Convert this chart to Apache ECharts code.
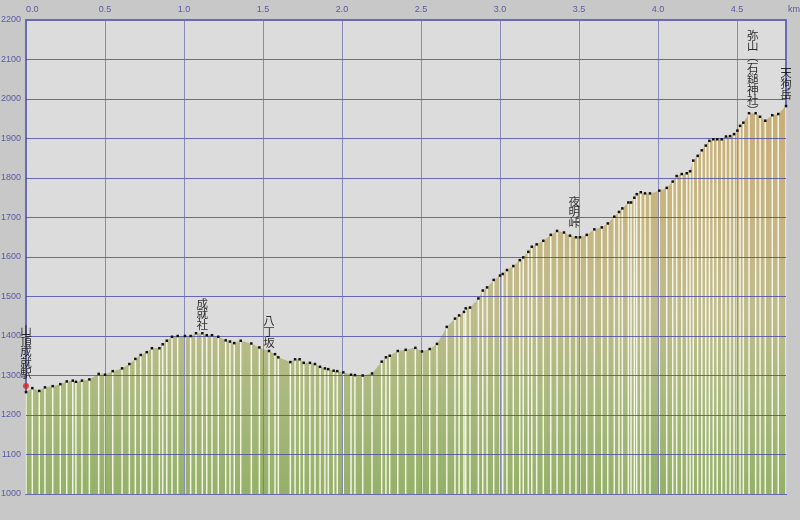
<!DOCTYPE html>
<html><head><meta charset="utf-8">
<script src="https://cdn.jsdelivr.net/npm/echarts@6/dist/echarts.min.js"></script>
<style>html,body{margin:0;padding:0;background:#c8c8c8}#c{width:800px;height:520px}</style>
</head><body><div id="c"></div>
<script>
// distance along route (km)
const distanceKm = [0.000,0.040,0.084,0.120,0.169,0.217,0.258,0.296,0.316,0.354,0.401,0.460,0.500,0.549,0.608,0.654,0.692,0.726,0.764,0.797,0.844,0.865,0.891,0.924,0.960,1.006,1.042,1.076,1.116,1.144,1.177,1.217,1.264,1.291,1.318,1.359,1.426,1.477,1.538,1.576,1.597,1.673,1.703,1.732,1.758,1.797,1.829,1.861,1.892,1.913,1.947,1.970,2.008,2.057,2.082,2.131,2.190,2.251,2.278,2.302,2.353,2.403,2.464,2.506,2.555,2.601,2.663,2.715,2.741,2.772,2.783,2.810,2.863,2.891,2.918,2.960,3.000,3.017,3.044,3.084,3.125,3.147,3.179,3.201,3.232,3.274,3.321,3.361,3.405,3.443,3.481,3.506,3.549,3.597,3.644,3.682,3.723,3.753,3.774,3.812,3.829,3.850,3.865,3.891,3.918,3.949,4.008,4.055,4.093,4.118,4.150,4.182,4.203,4.223,4.251,4.277,4.302,4.325,4.350,4.375,4.403,4.430,4.456,4.481,4.502,4.519,4.540,4.576,4.618,4.646,4.679,4.723,4.761,4.810];
// elevation (m)
const elevationM = [1258,1268,1261,1270,1273,1278,1285,1287,1284,1287,1290,1304,1302,1311,1318,1329,1342,1352,1359,1369,1369,1379,1388,1398,1400,1400,1400,1407,1407,1402,1402,1398,1389,1386,1382,1388,1381,1371,1362,1354,1346,1334,1341,1341,1332,1332,1329,1322,1318,1316,1312,1311,1308,1302,1301,1300,1305,1335,1346,1350,1362,1365,1370,1361,1367,1380,1423,1444,1452,1461,1470,1472,1495,1515,1523,1542,1553,1557,1567,1577,1592,1599,1613,1626,1632,1641,1656,1666,1662,1654,1650,1650,1656,1670,1675,1685,1702,1714,1723,1738,1738,1750,1759,1764,1761,1761,1768,1775,1791,1805,1810,1812,1817,1844,1856,1870,1882,1894,1898,1898,1898,1905,1906,1911,1920,1932,1940,1964,1964,1955,1945,1959,1962,1982];

const landmarkNames = ['山頂成就駅','成就社','八丁坂','夜明峠','弥山(石鎚神社)','天狗岳'];
const landmarkKm    = [0.000, 1.116, 1.538, 3.470, 4.600, 4.810];
const landmarkElev  = [1258, 1407, 1362, 1650, 1964, 1982];

const xTickValues = [0.5,1.0,1.5,2.0,2.5,3.0,3.5,4.0,4.5];
const yTickValues = [1100,1200,1300,1400,1500,1600,1700,1800,1900,2000,2100];

const points = distanceKm.map((d,i)=>[d, elevationM[i]]);
const labelDist = [13,3,3,9,-3,6];

const chart = echarts.init(document.getElementById('c'), null, {renderer:'canvas'});
const gridStyleH = {color:'rgba(72,72,168,0.8)', width:1.2, type:'solid'};
const gridStyleV = {color:'rgba(110,110,180,0.75)', width:1, type:'solid'};

chart.setOption({
  animation:false,
  backgroundColor:'#c8c8c8',
  grid:{left:26,right:14,top:20,bottom:26,containLabel:false,outerBoundsMode:'none',show:true,backgroundColor:'#dcdcdc',borderColor:'#6a6ab4',borderWidth:2},
  graphic:[{type:'text',left:788,top:5,style:{text:'km',fontSize:9,fill:'#5a5aa0',fontFamily:'Liberation Sans'}}],
  xAxis:{type:'value',position:'top',min:0,max:4.81,interval:0.5,
    axisLine:{show:false},axisTick:{show:false},splitLine:{show:false},
    axisLabel:{formatter:v=>v.toFixed(1),color:'#5a5aa0',fontSize:9,margin:6,showMaxLabel:false,alignMinLabel:'left',fontFamily:'Liberation Sans'}},
  yAxis:{type:'value',min:1000,max:2200,interval:100,
    axisLine:{show:false},axisTick:{show:false},splitLine:{show:false},
    axisLabel:{formatter:v=>String(v),color:'#5a5aa0',fontSize:9,margin:5,fontFamily:'Liberation Sans'}},
  series:[
    {type:'line',data:points,symbol:'none',z:2,silent:true,
      lineStyle:{width:0},
      areaStyle:{opacity:1,color:new echarts.graphic.LinearGradient(0,20,0,494,[
        {offset:0,color:'#c4a870'},{offset:0.3,color:'#c9b27e'},{offset:0.62,color:'#bfbb8c'},
        {offset:0.8,color:'#a9b97e'},{offset:1,color:'#94b068'}],true)}},
    {type:'bar',data:points,barWidth:1.5,z:3,silent:true,
      itemStyle:{color:'rgba(250,250,238,0.92)'},
      markLine:{silent:true,symbol:['none','none'],label:{show:false},z:5,animation:false,
        data:[...yTickValues.map(v=>({yAxis:v,lineStyle:gridStyleH})),...xTickValues.map(v=>({xAxis:v,lineStyle:gridStyleV}))]}},
    {type:'line',data:points,z:10,symbol:'rect',symbolSize:2.5,showSymbol:true,showAllSymbol:true,silent:true,
      lineStyle:{width:0,opacity:0},itemStyle:{color:'#111'}},
    {type:'scatter',z:11,silent:true,symbol:'circle',symbolSize:6,symbolOffset:[0,-6],
      itemStyle:{color:'#d42a20'},data:[[distanceKm[0],elevationM[0]]]},
    {type:'scatter',z:12,silent:true,symbolSize:0,
      data:landmarkNames.map((n,i)=>({value:[landmarkKm[i],landmarkElev[i]],name:n,
        label:{show:true,position:'top',distance:labelDist[i]}})),
      label:{show:true,position:'top',color:'#000',fontSize:11.5,lineHeight:10.8,
        fontFamily:'Noto Sans CJK JP',
        formatter:p=>p.name.replace('(','︵').replace(')','︶').split('').join('\n')}}
  ]
});
</script></body></html>
